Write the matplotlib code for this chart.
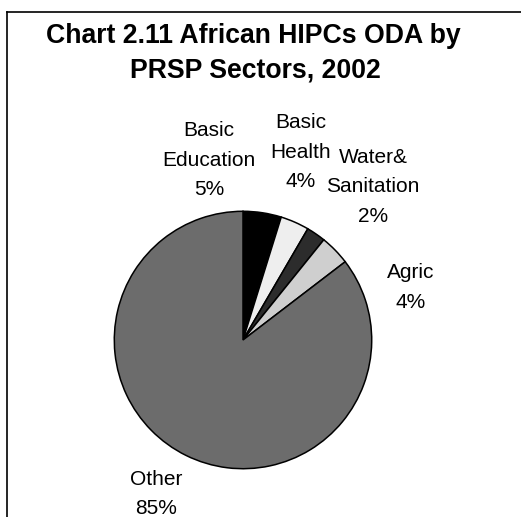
import matplotlib
matplotlib.use("Agg")
import matplotlib.pyplot as plt
from matplotlib.lines import Line2D

W, H = 521, 517

# data (start at 12 o'clock, clockwise)
sectors = ["Basic\nEducation", "Basic\nHealth", "Water&\nSanitation", "Agric", "Other"]
shares = [4.8, 3.6, 2.4, 3.8, 85.4]
colors = ["#000000", "#eeeeee", "#2c2c2c", "#cfcfcf", "#6c6c6c"]

# label placement in pixels: (centre x, first baseline y)
label_pos = [(209, 136), (301, 128), (373, 163), (411, 278), (156, 485)]
LINE_STEP = 29.5

plt.rcParams["font.family"] = ["Liberation Sans", "DejaVu Sans"]

fig = plt.figure(figsize=(W / 100, H / 100), dpi=100)
fig.patch.set_facecolor("white")

def fx(px):
    return px / W

def fy(py):
    return 1 - py / H

# chart frame: only top and left edges are inside the picture
fig.add_artist(Line2D([fx(7), fx(W + 5)], [fy(12), fy(12)], transform=fig.transFigure,
                      color="black", lw=1.2))
fig.add_artist(Line2D([fx(7), fx(7)], [fy(12), fy(H + 5)], transform=fig.transFigure,
                      color="black", lw=1.2))

# title
fig.text(fx(253), fy(43), "Chart 2.11 African HIPCs ODA by", ha="center", va="baseline",
         fontsize=19.2, fontweight="bold")
fig.text(fx(255), fy(78), "PRSP Sectors, 2002", ha="center", va="baseline",
         fontsize=19.2, fontweight="bold")

# pie: centre (243, 340), radius 130 px
cx, cy, r = 243, 340, 130
ax = fig.add_axes([fx(cx - r), fy(cy + r), 2 * r / W, 2 * r / H])
ax.pie(shares, colors=colors, startangle=90, counterclock=False, radius=1.0,
       wedgeprops=dict(edgecolor="black", linewidth=1.1))
ax.set_xlim(-1.01, 1.01)
ax.set_ylim(-1.01, 1.01)
ax.set_aspect("equal")
ax.axis("off")

total = sum(shares)
for name, val, (lx, ly) in zip(sectors, shares, label_pos):
    lines = name.split("\n") + [f"{val / total * 100:.0f}%"]
    for i, line in enumerate(lines):
        fig.text(fx(lx), fy(ly + i * LINE_STEP), line, ha="center", va="baseline",
                 fontsize=15)

fig.savefig("out.png", dpi=100)
